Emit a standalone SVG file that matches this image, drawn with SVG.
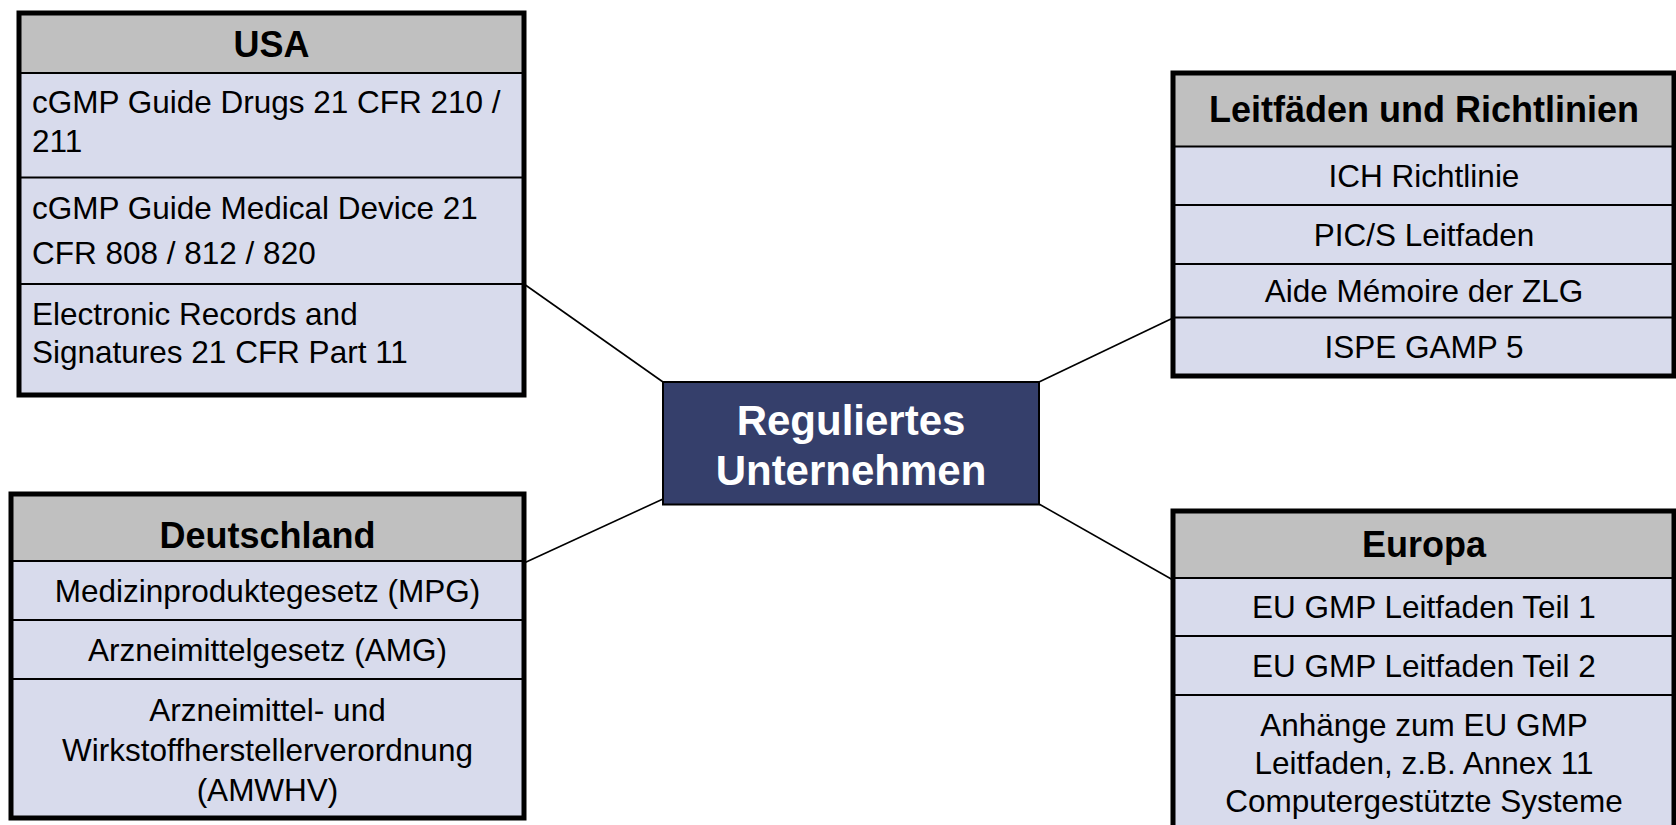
<svg xmlns="http://www.w3.org/2000/svg" width="1676" height="825" viewBox="0 0 1676 825">
<style>
.hdr{fill:#C0C0C0}
.body{fill:#D8DBEC}
.frame{fill:none;stroke:#000;stroke-width:5}
.sep{stroke:#000;stroke-width:2.2}
.ht{font-family:"Liberation Sans",Arial,sans-serif;font-weight:bold;font-size:36px;fill:#000;text-anchor:middle}
.t{font-family:"Liberation Sans",Arial,sans-serif;font-size:31.5px;fill:#000}
.c{text-anchor:middle}
.conn{stroke:#000;stroke-width:1.6;fill:none}
.ct{font-family:"Liberation Sans",Arial,sans-serif;font-weight:bold;font-size:42px;fill:#fff;text-anchor:middle}
</style>
<rect width="1676" height="825" fill="#fff"/>
<g id="connectors">
<line class="conn" x1="524" y1="284" x2="663" y2="382"/>
<line class="conn" x1="1039" y1="382" x2="1173" y2="318"/>
<line class="conn" x1="663" y1="499" x2="524" y2="563"/>
<line class="conn" x1="1039" y1="504" x2="1173" y2="580"/>
</g>
<g id="usa">
<rect class="body" x="19" y="13" width="505" height="382"/>
<rect class="hdr" x="19" y="13" width="505" height="60"/>
<line class="sep" x1="19" y1="73" x2="524" y2="73"/>
<line class="sep" x1="19" y1="177.5" x2="524" y2="177.5"/>
<line class="sep" x1="19" y1="284" x2="524" y2="284"/>
<rect class="frame" x="19" y="13" width="505" height="382"/>
<text class="ht" x="271.5" y="57">USA</text>
<text class="t" x="32" y="113">cGMP Guide Drugs 21 CFR 210 /</text>
<text class="t" x="32" y="152">211</text>
<text class="t" x="32" y="219">cGMP Guide Medical Device 21</text>
<text class="t" x="32" y="264">CFR 808 / 812 / 820</text>
<text class="t" x="32" y="325">Electronic Records and</text>
<text class="t" x="32" y="363">Signatures 21 CFR Part 11</text>
</g>
<g id="leitfaeden">
<rect class="body" x="1173" y="73" width="501" height="303"/>
<rect class="hdr" x="1173" y="73" width="501" height="73"/>
<line class="sep" x1="1173" y1="146.5" x2="1674" y2="146.5"/>
<line class="sep" x1="1173" y1="205" x2="1674" y2="205"/>
<line class="sep" x1="1173" y1="264" x2="1674" y2="264"/>
<line class="sep" x1="1173" y1="317.5" x2="1674" y2="317.5"/>
<rect class="frame" x="1173" y="73" width="501" height="303"/>
<text class="ht" x="1424" y="122">Leitfäden und Richtlinien</text>
<text class="t c" x="1424" y="187">ICH Richtlinie</text>
<text class="t c" x="1424" y="246">PIC/S Leitfaden</text>
<text class="t c" x="1424" y="302">Aide Mémoire der ZLG</text>
<text class="t c" x="1424" y="358">ISPE GAMP 5</text>
</g>
<g id="center">
<rect x="663" y="382" width="376" height="122.5" fill="#353F6B" stroke="#000" stroke-width="2"/>
<text class="ct" x="851" y="435">Reguliertes</text>
<text class="ct" x="851" y="485">Unternehmen</text>
</g>
<g id="deutschland">
<rect class="body" x="11" y="494" width="513" height="324"/>
<rect class="hdr" x="11" y="494" width="513" height="67"/>
<line class="sep" x1="11" y1="561" x2="524" y2="561"/>
<line class="sep" x1="11" y1="620" x2="524" y2="620"/>
<line class="sep" x1="11" y1="679" x2="524" y2="679"/>
<rect class="frame" x="11" y="494" width="513" height="324"/>
<text class="ht" x="267.5" y="548">Deutschland</text>
<text class="t c" x="267.5" y="602">Medizinproduktegesetz (MPG)</text>
<text class="t c" x="267.5" y="661">Arzneimittelgesetz (AMG)</text>
<text class="t c" x="267.5" y="721">Arzneimittel- und</text>
<text class="t c" x="267.5" y="761">Wirkstoffherstellerverordnung</text>
<text class="t c" x="267.5" y="801">(AMWHV)</text>
</g>
<g id="europa">
<rect class="body" x="1173" y="511" width="501" height="330"/>
<rect class="hdr" x="1173" y="511" width="501" height="67"/>
<line class="sep" x1="1173" y1="578" x2="1674" y2="578"/>
<line class="sep" x1="1173" y1="636" x2="1674" y2="636"/>
<line class="sep" x1="1173" y1="695" x2="1674" y2="695"/>
<rect class="frame" x="1173" y="511" width="501" height="330"/>
<text class="ht" x="1424" y="557">Europa</text>
<text class="t c" x="1424" y="618">EU GMP Leitfaden Teil 1</text>
<text class="t c" x="1424" y="677">EU GMP Leitfaden Teil 2</text>
<text class="t c" x="1424" y="736">Anhänge zum EU GMP</text>
<text class="t c" x="1424" y="774">Leitfaden, z.B. Annex 11</text>
<text class="t c" x="1424" y="812">Computergestützte Systeme</text>
</g>
</svg>
